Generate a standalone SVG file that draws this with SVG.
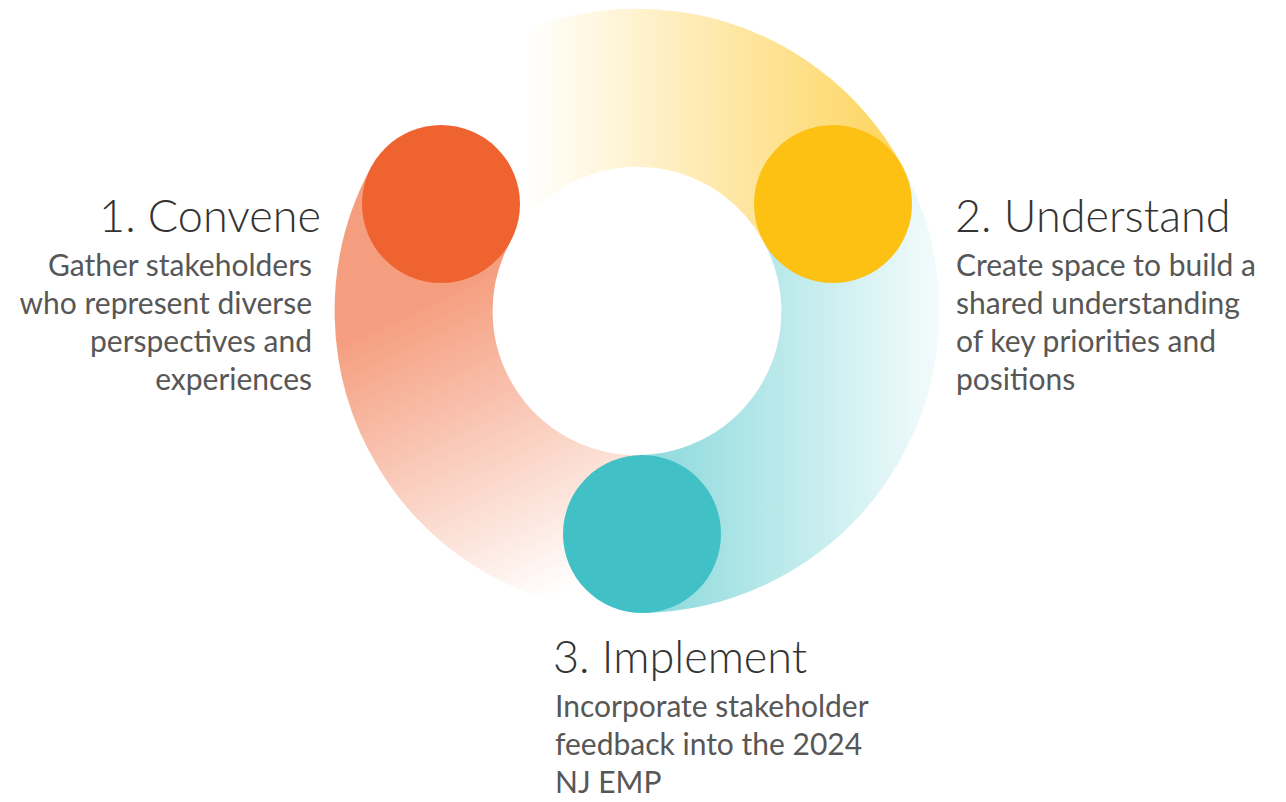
<svg xmlns="http://www.w3.org/2000/svg" width="1286" height="802" viewBox="0 0 1286 802">
  <style>
    .arc { fill: none; stroke-width: 158; stroke-linecap: butt; }
    .title { font-family: Lato, "Source Sans Pro", "Open Sans", sans-serif; font-weight: 300; font-size: 45px; fill: #333333; }
    .body { font-family: Lato, "Source Sans Pro", "Open Sans", sans-serif; font-weight: 400; font-size: 30px; fill: #575757; }
    .end { text-anchor: end; }
  </style>
  <defs>
    <linearGradient id="gO" gradientUnits="userSpaceOnUse" x1="430" y1="300" x2="570" y2="590">
      <stop offset="0" stop-color="#EF6331" stop-opacity="0.62"/>
      <stop offset="1" stop-color="#EF6331" stop-opacity="0"/>
    </linearGradient>
    <linearGradient id="gY" gradientUnits="userSpaceOnUse" x1="905" y1="0" x2="525" y2="0">
      <stop offset="0" stop-color="#FDC114" stop-opacity="0.7"/>
      <stop offset="1" stop-color="#FDC114" stop-opacity="0"/>
    </linearGradient>
    <linearGradient id="gT" gradientUnits="userSpaceOnUse" x1="680" y1="0" x2="950" y2="0">
      <stop offset="0" stop-color="#41C1C6" stop-opacity="0.55"/>
      <stop offset="1" stop-color="#41C1C6" stop-opacity="0.04"/>
    </linearGradient>
  </defs>
  <rect width="1286" height="802" fill="#ffffff"/>
  <g id="connectors">
    <path class="arc" stroke="url(#gO)" d="M 441 204 A 223 223 0 0 0 642 534"/>
    <path class="arc" stroke="url(#gY)" d="M 833 204 A 223 223 0 0 0 479.3 153.3"/>
    <path class="arc" stroke="url(#gT)" d="M 642 534 A 223 223 0 0 0 833 204"/>
  </g>
  <g id="node-convene">
    <circle cx="441" cy="204" r="79" fill="#EF6331"/>
    <text class="title end" x="321" y="232">1. Convene</text>
    <text class="body end" x="312" y="276">Gather stakeholders</text>
    <text class="body end" x="312" y="314">who represent diverse</text>
    <text class="body end" x="312" y="352">perspectives and</text>
    <text class="body end" x="312" y="390">experiences</text>
  </g>
  <g id="node-understand">
    <circle cx="833" cy="204" r="79" fill="#FDC114"/>
    <text class="title" x="955" y="232">2. Understand</text>
    <text class="body" x="956" y="276">Create space to build a</text>
    <text class="body" x="956" y="314">shared understanding</text>
    <text class="body" x="956" y="352">of key priorities and</text>
    <text class="body" x="956" y="390">positions</text>
  </g>
  <g id="node-implement">
    <circle cx="642" cy="534" r="79" fill="#41C1C6"/>
    <text class="title" x="553" y="673">3. Implement</text>
    <text class="body" x="555" y="717">Incorporate stakeholder</text>
    <text class="body" x="555" y="755">feedback into the 2024</text>
    <text class="body" x="555" y="793">NJ EMP</text>
  </g>
</svg>
